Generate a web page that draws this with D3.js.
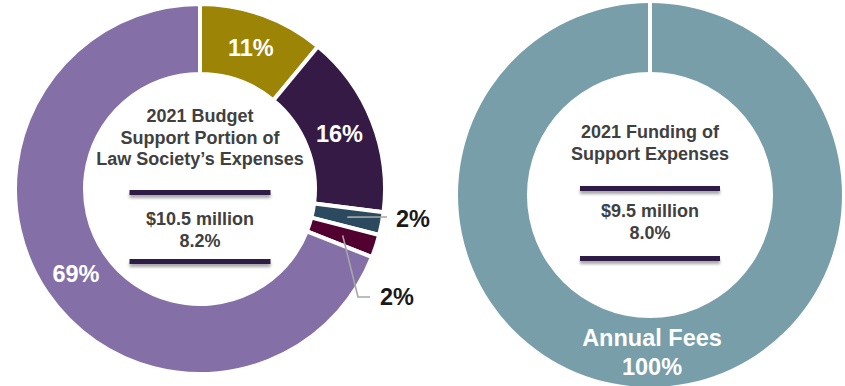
<!DOCTYPE html>
<html>
<head>
<meta charset="utf-8">
<script src="https://cdn.jsdelivr.net/npm/d3@7"></script>
<style>
  html, body { margin: 0; padding: 0; background: #fff; }
  svg { display: block; font-family: "Liberation Sans", Arial, sans-serif; }
</style>
</head>
<body>
<svg id="chart" width="845" height="386"></svg>
<script>
// Budget split of support expenses (percent of total)
const budgetCategories = ["Segment A", "Segment B", "Segment C", "Segment D", "Segment E"];
const budgetShares = [11, 16, 2, 2, 69];
const budgetColors = ["#9c8406", "#351a45", "#2b4a5f", "#52002f", "#8470a7"];
const budgetTitle = ["2021 Budget", "Support Portion of", "Law Society\u2019s Expenses"];
const budgetFigures = ["$10.5 million", "8.2%"];

// Funding sources of support expenses (percent of total)
const fundingCategories = ["Annual Fees"];
const fundingShares = [100];
const fundingColors = ["#789eaa"];
const fundingTitle = ["2021 Funding of", "Support Expenses"];
const fundingFigures = ["$9.5 million", "8.0%"];

const svg = d3.select("#chart");
const textGrey = "#404040";

// soft shadow under the divider bars
const defs = svg.append("defs");
const f = defs.append("filter").attr("id", "barShadow")
  .attr("x", "-10%").attr("y", "-100%").attr("width", "120%").attr("height", "400%");
f.append("feDropShadow").attr("dx", 0).attr("dy", 3).attr("stdDeviation", 1.6)
  .attr("flood-color", "#000").attr("flood-opacity", 0.35);

const pie = d3.pie().sort(null).value(d => d.value);

function drawCenter(g, title, titleY, figures, figY, barY, barW) {
  g.selectAll("text.title").data(title).join("text")
    .attr("class", "title")
    .attr("text-anchor", "middle")
    .attr("x", 0).attr("y", (d, i) => titleY + i * 21.5)
    .attr("font-size", 18).attr("font-weight", "bold").attr("fill", textGrey)
    .text(d => d);
  g.selectAll("rect.bar").data(barY).join("rect")
    .attr("class", "bar")
    .attr("x", -barW / 2).attr("y", d => d - 2.5)
    .attr("width", barW).attr("height", 5)
    .attr("fill", "#2e1a47")
    .attr("filter", "url(#barShadow)");
  g.selectAll("text.fig").data(figures).join("text")
    .attr("class", "fig")
    .attr("text-anchor", "middle")
    .attr("x", 0).attr("y", (d, i) => figY + i * 21.5)
    .attr("font-size", 18).attr("font-weight", "bold").attr("fill", textGrey)
    .text(d => d);
}

// ---------- Left donut: budget ----------
{
  const cx = 200, cy = 189, rIn = 117, rOut = 183;
  const data = budgetShares.map((v, i) => ({ name: budgetCategories[i], value: v, color: budgetColors[i] }));
  const arcs = pie(data);
  const arc = d3.arc().innerRadius(rIn - 2).outerRadius(rOut + 2);
  const labelArc = d3.arc().innerRadius(rIn).outerRadius(rOut);
  const g = svg.append("g").attr("transform", `translate(${cx},${cy})`);

  g.selectAll("path.slice").data(arcs).join("path")
    .attr("class", "slice")
    .attr("d", arc)
    .attr("fill", d => d.data.color)
    .attr("stroke", "#fff").attr("stroke-width", 4).attr("stroke-linejoin", "miter");

  // large slices carry their label inside the ring
  const inside = arcs.filter(d => d.data.value >= 5);
  g.selectAll("text.inlab").data(inside).join("text")
    .attr("class", "inlab")
    .attr("transform", d => `translate(${labelArc.centroid(d)})`)
    .attr("text-anchor", "middle").attr("dy", "0.35em")
    .attr("font-size", 23.5).attr("font-weight", "bold").attr("fill", "#fff")
    .text(d => `${d.data.value}%`);

  // small slices: leader lines to labels outside the ring
  const outside = arcs.filter(d => d.data.value < 5);
  const leaders = [
    { bends: [[187, 28]], text: [196, 30] },
    { bends: [[158, 108], [170, 108]], text: [180, 108] }
  ];
  outside.forEach((d, i) => {
    const c = labelArc.centroid(d);
    const L = leaders[i];
    const pts = [c, ...L.bends];
    g.append("path")
      .attr("d", d3.line()(pts))
      .attr("fill", "none").attr("stroke", "#a6a6a6").attr("stroke-width", 1.6);
    g.append("text")
      .attr("x", L.text[0]).attr("y", L.text[1])
      .attr("dy", "0.35em")
      .attr("font-size", 23.5).attr("font-weight", "bold").attr("fill", "#1a1a1a")
      .text(`${d.data.value}%`);
  });

  drawCenter(g, budgetTitle, 122 - cy, budgetFigures, 225 - cy, [192.5 - cy, 261.5 - cy], 141);
}

// ---------- Right donut: funding ----------
{
  const cx = 650, cy = 195, rIn = 123, rOut = 192;
  const data = fundingShares.map((v, i) => ({ name: fundingCategories[i], value: v, color: fundingColors[i] }));
  const arcs = pie(data);
  const arc = d3.arc().innerRadius(rIn).outerRadius(rOut);
  const g = svg.append("g").attr("transform", `translate(${cx},${cy})`);

  g.selectAll("path.slice").data(arcs).join("path")
    .attr("class", "slice")
    .attr("d", arc)
    .attr("fill", d => d.data.color);

  // white seam where the ring starts
  arcs.forEach(d => {
    const a = d.startAngle;
    g.append("line")
      .attr("x1", Math.sin(a) * (rIn - 1)).attr("y1", -Math.cos(a) * (rIn - 1))
      .attr("x2", Math.sin(a) * (rOut + 1)).attr("y2", -Math.cos(a) * (rOut + 1))
      .attr("stroke", "#fff").attr("stroke-width", 4);
  });

  // category name and share along the bottom of the ring
  arcs.forEach(d => {
    const t = g.append("text").attr("text-anchor", "middle")
      .attr("font-size", 23.5).attr("font-weight", "bold").attr("fill", "#fff");
    t.append("tspan").attr("x", 2).attr("y", 346 - cy).text(d.data.name);
    t.append("tspan").attr("x", 2).attr("y", 375 - cy).text(`${d.data.value}%`);
  });

  drawCenter(g, fundingTitle, 138 - cy, fundingFigures, 217 - cy, [188.5 - cy, 258.5 - cy], 140);
}
</script>
</body>
</html>
